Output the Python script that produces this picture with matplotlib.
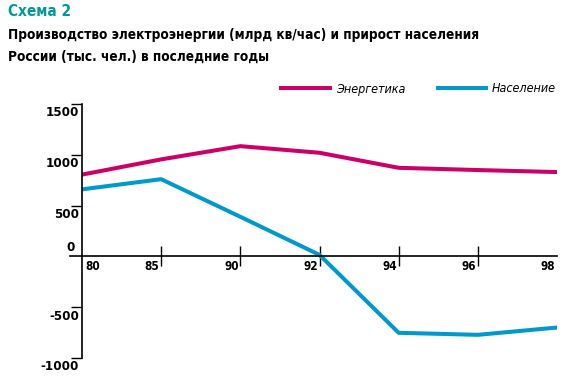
import matplotlib.pyplot as plt

years = ["80", "85", "90", "92", "94", "96", "98"]
energy = [805, 955, 1085, 1020, 872, 850, 830]
population = [660, 760, 390, 15, -752, -772, -700]
y_ticks = [1500, 1000, 500, -500, -1000]

pink = "#CC0066"
blue = "#0099CC"

fig = plt.figure(figsize=(5.85, 3.87), dpi=100)
ax = fig.add_axes([82 / 585, 1 - 358 / 387, 475 / 585, 254 / 387])

x = range(len(years))
ax.plot(x, energy, color=pink, lw=2.9, label="Энергетика", solid_joinstyle="round")
ax.plot(x, population, color=blue, lw=2.9, label="Население", solid_joinstyle="round")

ax.set_xlim(0, len(years) - 1)
ax.set_ylim(-1000, 1500)

for s in ["top", "right"]:
    ax.spines[s].set_visible(False)
ax.spines["bottom"].set_position(("data", 0))
ax.spines["left"].set_linewidth(1.2)
ax.spines["bottom"].set_linewidth(1.2)
# axis extends a bit to the left of the y-axis
ax.axhline(0, xmin=-12 / 475, xmax=0, color="black", lw=1.2, clip_on=False)

bold = dict(family="DejaVu Sans", fontstretch="condensed", fontweight="bold")

ax.set_xticks(list(x)[1:-1])
ax.set_xticklabels([])
ax.tick_params(axis="x", direction="inout", length=15, width=1)
ax.set_yticks(y_ticks)
ax.set_yticklabels([])
ax.tick_params(axis="y", direction="out", length=8, width=1)

for i, lab in enumerate(years):
    dx = 11 if i == 0 else -9
    ax.annotate(lab, (i, 0), xytext=(dx, -4), textcoords="offset pixels",
                ha="center", va="top", fontsize=8.5, **bold)

for v in y_ticks + [0]:
    dy = 9 if v == 0 else -9
    dx = -7 if v == 0 else -3
    ax.annotate(str(v), (0, v), xytext=(dx, dy), textcoords="offset pixels",
                ha="right", va="center", fontsize=9.5, **bold)

fig.text(8 / 585, 1 - 12 / 387, "Схема 2", color="#009999", fontsize=11,
         va="center", ha="left", **bold)
fig.text(8 / 585, 1 - 35 / 387,
         "Производство электроэнергии (млрд кв/час) и прирост населения",
         fontsize=9.8, va="center", ha="left", **bold)
fig.text(8 / 585, 1 - 57 / 387, "России (тыс. чел.) в последние годы",
         fontsize=9.8, va="center", ha="left", **bold)

fig.legend(loc="center right", bbox_to_anchor=(556 / 585, 1 - 89 / 387), ncol=2,
           frameon=False, handlelength=3.9, handletextpad=0.45, columnspacing=2.6,
           borderpad=0, borderaxespad=0,
           prop=dict(family="DejaVu Sans", stretch="condensed", style="italic", size=9))

fig.savefig("out.png", dpi=100)
